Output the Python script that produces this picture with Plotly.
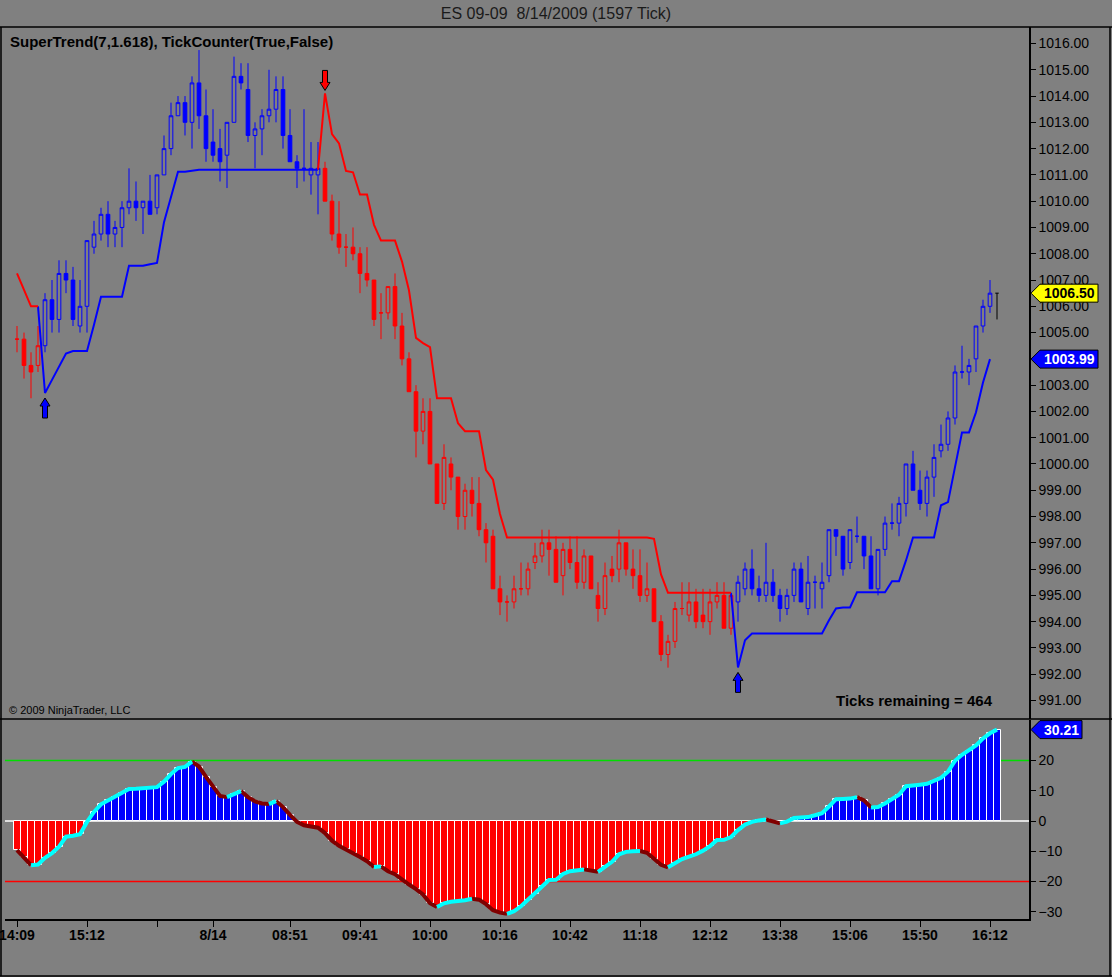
import plotly.graph_objects as go
from plotly.subplots import make_subplots

# ES 09-09 1597-tick bars, 8/13-8/14/2009
opens = [1004.75, 1004.75, 1003.75, 1003.75, 1004.5, 1006.25, 1005.5, 1007.25, 1007.0, 1005.25,
         1006.0, 1008.25, 1008.75, 1009.5, 1008.75, 1009.0, 1009.75, 1010.0, 1009.75, 1010.0,
         1009.75, 1011.0, 1012.0, 1013.25, 1013.75, 1013.0, 1014.5, 1013.25, 1012.25, 1012.0,
         1011.75, 1013.0, 1014.75, 1014.25, 1012.5, 1012.75, 1013.25, 1013.5, 1014.25, 1012.5,
         1011.5, 1011.25, 1011.0, 1011.0, 1011.25, 1010.0, 1008.75, 1008.25, 1008.25, 1008.0,
         1007.25, 1007.0, 1005.75, 1005.75, 1006.75, 1005.25, 1004.0, 1002.75, 1001.25, 1002.0,
         1000.0, 998.5, 1000.0, 999.5, 998.0, 999.0, 998.5, 997.5, 997.25, 995.25,
         994.75, 994.75, 995.25, 995.25, 996.25, 996.5, 997.0, 996.75, 995.75, 996.75,
         996.25, 995.5, 996.5, 995.0, 994.5, 996.0, 996.0, 997.0, 996.0, 995.75,
         995.0, 995.25, 994.0, 992.75, 993.25, 994.5, 994.25, 994.75, 994.25, 994.0,
         994.75, 995.0, 993.75, 994.75, 995.25, 996.0, 995.25, 995.0, 995.5, 995.0,
         994.5, 995.0, 996.0, 994.5, 995.5, 995.25, 995.75, 997.5, 997.25, 996.25,
         997.25, 997.25, 996.5, 995.25, 996.75, 997.75, 997.75, 998.5, 1000.0, 999.0,
         998.5, 999.5, 1000.5, 1000.75, 1001.75, 1003.5, 1003.5, 1004.0, 1005.25, 1006.0,
         1006.5]
highs = [1005.25, 1005.0, 1004.25, 1005.25, 1006.5, 1007.0, 1007.75, 1007.75, 1007.5, 1007.0,
         1008.5, 1009.25, 1009.75, 1010.0, 1009.25, 1010.0, 1011.25, 1010.75, 1010.0, 1011.0,
         1011.0, 1012.5, 1013.75, 1014.0, 1014.0, 1014.75, 1015.75, 1014.25, 1013.5, 1012.75,
         1013.0, 1015.5, 1015.25, 1015.25, 1013.0, 1013.5, 1015.0, 1014.75, 1014.75, 1013.5,
         1011.75, 1013.5, 1012.25, 1012.25, 1011.5, 1010.25, 1010.0, 1008.75, 1009.0, 1008.25,
         1008.25, 1007.0, 1006.5, 1006.75, 1007.25, 1005.75, 1004.25, 1003.0, 1002.5, 1002.5,
         1000.0, 1000.75, 1000.25, 999.5, 999.25, 999.5, 999.5, 997.75, 997.5, 995.75,
         995.0, 995.75, 996.25, 996.25, 997.0, 997.5, 997.5, 997.25, 997.0, 997.25,
         997.25, 996.75, 996.5, 995.5, 996.25, 996.5, 997.5, 997.0, 996.75, 996.75,
         996.25, 995.25, 994.25, 993.5, 994.75, 995.5, 995.5, 995.25, 995.25, 995.25,
         995.5, 995.5, 995.0, 995.75, 996.25, 996.75, 995.75, 997.0, 996.0, 995.25,
         995.25, 996.25, 996.25, 996.5, 995.75, 996.25, 997.5, 997.5, 997.25, 997.5,
         998.0, 997.25, 997.25, 996.75, 998.0, 998.5, 998.75, 1000.0, 1000.5, 999.75,
         999.75, 1000.75, 1001.5, 1002.0, 1003.75, 1004.5, 1004.0, 1005.25, 1006.25, 1007.0,
         1006.5]
lows = [1004.25, 1003.25, 1002.5, 1003.5, 1004.25, 1005.0, 1005.0, 1006.5, 1005.25, 1005.0,
        1005.0, 1008.0, 1008.5, 1008.25, 1008.25, 1008.25, 1009.5, 1009.25, 1008.75, 1009.5,
        1009.5, 1011.0, 1011.75, 1013.25, 1012.5, 1012.0, 1012.75, 1011.5, 1011.5, 1010.75,
        1010.5, 1013.0, 1014.25, 1012.25, 1011.25, 1011.75, 1013.0, 1013.0, 1012.0, 1011.5,
        1010.5, 1010.75, 1010.25, 1009.5, 1010.0, 1008.5, 1008.0, 1007.5, 1007.75, 1006.5,
        1006.75, 1005.25, 1004.75, 1005.5, 1004.75, 1003.75, 1002.75, 1000.25, 1000.75, 1000.0,
        998.5, 998.25, 999.0, 997.5, 997.5, 998.0, 997.25, 996.25, 995.25, 994.25,
        994.0, 994.5, 995.0, 995.0, 996.0, 996.25, 995.75, 995.5, 995.0, 996.0,
        995.25, 995.25, 995.25, 994.0, 994.25, 995.5, 995.5, 995.75, 995.25, 994.75,
        994.75, 994.0, 992.5, 992.25, 993.0, 994.25, 994.0, 993.75, 993.75, 993.5,
        994.5, 993.75, 993.5, 994.0, 995.0, 995.0, 994.75, 994.75, 994.75, 994.0,
        994.25, 994.75, 994.75, 994.25, 994.5, 994.5, 995.5, 996.5, 995.75, 996.0,
        997.0, 996.0, 995.25, 995.0, 996.5, 997.5, 997.25, 998.0, 999.0, 998.25,
        998.0, 998.75, 1000.25, 1000.5, 1001.5, 1003.25, 1003.0, 1003.5, 1005.0, 1005.75,
        1005.5]
closes = [1004.75, 1003.75, 1003.5, 1004.5, 1006.25, 1005.5, 1007.25, 1007.0, 1005.5, 1006.0,
          1008.5, 1008.75, 1009.5, 1008.75, 1009.0, 1009.75, 1010.0, 1009.75, 1010.0, 1009.5,
          1011.0, 1012.0, 1013.25, 1013.75, 1013.0, 1014.5, 1013.25, 1012.0, 1011.75, 1011.5,
          1013.0, 1014.75, 1014.5, 1012.5, 1012.75, 1013.25, 1013.5, 1014.25, 1012.5, 1011.5,
          1011.25, 1011.25, 1011.25, 1011.25, 1010.0, 1008.75, 1008.25, 1008.25, 1008.0, 1007.25,
          1007.0, 1005.5, 1005.75, 1006.75, 1005.25, 1004.0, 1002.75, 1001.25, 1002.0, 1000.0,
          998.5, 1000.25, 999.5, 998.0, 999.0, 998.5, 997.5, 997.0, 995.25, 994.75,
          994.75, 995.25, 995.25, 996.0, 996.5, 997.0, 996.75, 995.5, 996.75, 996.25,
          995.5, 996.5, 995.25, 994.5, 995.75, 995.75, 997.0, 996.0, 995.75, 995.0,
          995.25, 994.0, 992.75, 993.25, 994.5, 994.5, 994.75, 994.0, 994.0, 994.75,
          995.0, 993.75, 995.0, 995.5, 996.0, 995.25, 995.0, 995.5, 995.0, 994.5,
          995.0, 996.0, 994.75, 995.5, 995.5, 995.5, 997.5, 997.25, 996.0, 997.5,
          997.25, 996.5, 995.25, 996.75, 997.75, 997.75, 998.5, 1000.0, 999.0, 998.5,
          999.5, 1000.25, 1000.75, 1001.75, 1003.5, 1003.5, 1003.75, 1005.25, 1006.0, 1006.5,
          1006.5]
# SuperTrend(7,1.618); the live bar has no value yet
supertrend = [1007.25, 1006.6, 1006.0, 1006.0, 1002.7, 1003.2, 1003.7, 1004.2, 1004.3, 1004.3,
              1004.3, 1005.3, 1006.36, 1006.36, 1006.36, 1006.36, 1007.54, 1007.54, 1007.54, 1007.6,
              1007.65, 1009.2, 1010.17, 1011.12, 1011.12, 1011.15, 1011.2, 1011.2, 1011.2, 1011.2,
              1011.2, 1011.2, 1011.2, 1011.2, 1011.2, 1011.2, 1011.2, 1011.2, 1011.2, 1011.2,
              1011.2, 1011.2, 1011.2, 1011.2, 1014.1, 1012.55, 1012.2, 1011.15, 1011.1, 1010.25,
              1010.25, 1009.1, 1008.5, 1008.5, 1008.5, 1007.7, 1006.6, 1004.8, 1004.6, 1004.45,
              1002.5, 1002.5, 1002.5, 1001.55, 1001.25, 1001.25, 1001.25, 999.77, 999.4, 998.1,
              997.2, 997.2, 997.2, 997.2, 997.2, 997.2, 997.2, 997.2, 997.2, 997.2,
              997.2, 997.2, 997.2, 997.2, 997.2, 997.2, 997.2, 997.2, 997.2, 997.2,
              997.2, 997.15, 995.8, 995.1, 995.1, 995.1, 995.1, 995.1, 995.1, 995.1,
              995.1, 995.1, 995.1, 992.26, 993.29, 993.55, 993.55, 993.55, 993.55, 993.55,
              993.55, 993.55, 993.55, 993.55, 993.55, 993.55, 994.05, 994.5, 994.54, 994.54,
              995.12, 995.12, 995.12, 995.12, 995.12, 995.54, 995.54, 996.33, 997.2, 997.2,
              997.2, 997.2, 998.43, 998.55, 999.88, 1001.2, 1001.2, 1001.97, 1003.1, 1003.99,
              None]
# lower panel oscillator
osc = [-9.6, -12.0, -14.6, -14.4, -12.2, -10.6, -8.5, -5.2, -4.9, -4.4,
       -0.3, 3.0, 5.5, 6.8, 7.8, 9.2, 10.6, 10.7, 10.8, 10.9,
       11.2, 13.0, 15.5, 17.5, 17.9, 19.6, 18.0, 14.6, 11.2, 8.3,
       7.9, 9.0, 9.9, 7.9, 6.5, 5.8, 5.6, 6.6, 4.6, 2.0,
       -0.3, -1.4, -1.8, -2.2, -4.0, -6.5, -8.2, -9.4, -10.5, -11.9,
       -13.3, -15.2, -15.0, -16.6, -17.6, -19.5, -21.0, -22.5, -24.3, -27.2,
       -28.4, -27.2, -26.7, -26.6, -26.2, -25.7, -26.0, -27.5, -29.5, -30.3,
       -30.7, -29.8, -28.2, -26.0, -24.0, -21.6, -19.5, -19.4, -17.5, -16.6,
       -16.2, -16.0, -16.4, -16.8, -15.0, -13.5, -11.0, -10.2, -10.0, -9.9,
       -10.5, -12.5, -14.5, -15.3, -13.8, -12.6, -11.8, -11.0, -9.8, -8.3,
       -6.3, -6.2, -5.3, -3.0, -1.2, -0.3, 0.2, 0.5, 0.0, -0.8,
       -0.2, 1.0, 1.1, 1.3, 1.9, 2.6, 4.8, 7.2, 7.3, 7.4,
       7.9, 6.8, 4.5, 4.6, 5.8, 7.2, 8.7, 11.5, 11.9, 12.0,
       12.3, 13.2, 14.3, 16.3, 19.9, 21.9, 23.3, 25.0, 27.3, 29.0,
       30.21]
tick_bars = [0, 10, 20, 28, 39, 49, 59, 69, 79, 89, 99, 109, 119, 129, 139]
tick_text = ["14:09", "15:12", "", "8/14", "08:51", "09:41", "10:00", "10:16",
             "10:42", "11:18", "12:12", "13:38", "15:06", "15:50", "16:12"]
levels = [20, 0, -20]

BLUE = "#0000FF"
RED = "#FF0000"
GRAY = "#808080"
FONT = "Liberation Sans, Arial, sans-serif"

n = len(closes)
bars = list(range(n))
up = [st is not None and c > st for c, st in zip(closes, supertrend)]


def px(x):  # window pixel -> paper x
    return (x - 5) / 1024


def py(y):  # window pixel -> paper y
    return (919 - y) / 892


fig = make_subplots(rows=2, cols=1, shared_xaxes=True, vertical_spacing=0)


def candles(sel, color):
    return go.Candlestick(
        x=[bars[i] for i in sel],
        open=[opens[i] for i in sel], high=[highs[i] for i in sel],
        low=[lows[i] for i in sel], close=[closes[i] for i in sel],
        increasing=dict(line=dict(color=color, width=1), fillcolor="rgba(0,0,0,0)"),
        decreasing=dict(line=dict(color=color, width=1), fillcolor=color),
        whiskerwidth=0, hoverinfo="skip", showlegend=False)


blue_sel = [i for i in bars if supertrend[i] is not None and up[i]]
red_sel = [i for i in bars if supertrend[i] is not None and not up[i]]
live_sel = [i for i in bars if supertrend[i] is None]
fig.add_trace(candles(blue_sel, BLUE), row=1, col=1)
fig.add_trace(candles(red_sel, RED), row=1, col=1)
fig.add_trace(go.Ohlc(
    x=[bars[i] for i in live_sel], open=[opens[i] for i in live_sel],
    high=[highs[i] for i in live_sel], low=[lows[i] for i in live_sel],
    close=[closes[i] for i in live_sel], tickwidth=0.25,
    increasing=dict(line=dict(color="black", width=1)),
    decreasing=dict(line=dict(color="black", width=1)),
    hoverinfo="skip", showlegend=False), row=1, col=1)


def trend_line(flag):
    xs, ys = [], []
    for i in bars:
        if supertrend[i] is None or up[i] != flag:
            continue
        if i > 0 and up[i - 1] != flag and supertrend[i - 1] is not None:
            if xs:
                xs.append(None)
                ys.append(None)
            xs.append(i - 1)
            ys.append(supertrend[i - 1])
        xs.append(i)
        ys.append(supertrend[i])
    return xs, ys


for flag, color in [(True, BLUE), (False, RED)]:
    xs, ys = trend_line(flag)
    fig.add_trace(go.Scatter(x=xs, y=ys, mode="lines", line=dict(color=color, width=2),
                             hoverinfo="skip", showlegend=False), row=1, col=1)

# oscillator histogram + direction-coloured line
fig.add_trace(go.Bar(x=bars, y=osc,
                     marker=dict(color=[BLUE if v > 0 else RED for v in osc],
                                 line=dict(color="white", width=1)),
                     hoverinfo="skip", showlegend=False), row=2, col=1)


def osc_line(rising):
    xs, ys = [], []
    for i in range(1, n):
        if (osc[i] > osc[i - 1]) != rising:
            continue
        if not xs or xs[-1] != i - 1:
            if xs:
                xs.append(None)
                ys.append(None)
            xs.append(i - 1)
            ys.append(osc[i - 1])
        xs.append(i)
        ys.append(osc[i])
    return xs, ys


for rising, color in [(False, "#800000"), (True, "#00FFFF")]:
    xs, ys = osc_line(rising)
    fig.add_trace(go.Scatter(x=xs, y=ys, mode="lines", line=dict(color=color, width=4),
                             hoverinfo="skip", showlegend=False), row=2, col=1)

shapes = []
# trend change arrows
for i in bars[1:]:
    if supertrend[i] is None or supertrend[i - 1] is None or up[i] == up[i - 1]:
        continue
    if up[i]:
        path = "M 0,-5 L 5,-13 L 2.5,-13 L 2.5,-25 L -2.5,-25 L -2.5,-13 L -5,-13 Z"
        fill = BLUE
    else:
        path = "M 0,3 L 5,11 L 2.5,11 L 2.5,23 L -2.5,23 L -2.5,11 L -5,11 Z"
        fill = RED
    shapes.append(dict(type="path", xref="x", yref="y", xsizemode="pixel", ysizemode="pixel",
                       xanchor=i, yanchor=supertrend[i], path=path, fillcolor=fill,
                       line=dict(color="black", width=1)))

# level lines in the lower panel
level_colors = {20: "#00DD00", 0: "white", -20: "#FF0000"}
for lv in levels:
    shapes.append(dict(type="line", xref="paper", yref="y2", x0=0, x1=1, y0=lv, y1=lv,
                       line=dict(color=level_colors[lv], width=1.3),
                       layer="below"))

# frame lines
frame = dict(color="black", width=1.5)
shapes += [
    dict(type="line", xref="paper", yref="paper", x0=px(0), x1=px(1112), y0=py(27), y1=py(27), line=frame),
    dict(type="line", xref="paper", yref="paper", x0=px(0), x1=px(1112), y0=py(719), y1=py(719), line=frame),
    dict(type="line", xref="paper", yref="paper", x0=px(0), x1=px(1112), y0=py(976), y1=py(976), line=frame),
    dict(type="line", xref="paper", yref="paper", x0=px(1), x1=px(1), y0=py(27), y1=py(976), line=frame),
    dict(type="line", xref="paper", yref="paper", x0=px(1110), x1=px(1110), y0=py(27), y1=py(976), line=frame),
]

# price markers on the right axis
markers = [
    ("y", closes[-1], "#FFFF00", "black", 69),
    ("y", [v for v in supertrend if v is not None][-1], BLUE, "white", 69),
    ("y2", osc[-1], BLUE, "white", 53),
]
annotations = []
for yref, val, fill, txt, w in markers:
    shapes.append(dict(type="path", xref="paper", yref=yref, xsizemode="pixel", ysizemode="pixel",
                       xanchor=1, yanchor=val,
                       path=f"M 2,0 L 11,9 L {w},9 L {w},-9 L 11,-9 Z",
                       fillcolor=fill, line=dict(color="black", width=1)))
    annotations.append(dict(xref="paper", yref=yref, x=1, y=val, xanchor="center", yanchor="middle",
                            xshift=(11 + w) / 2, text=f"{val:.2f}", showarrow=False,
                            font=dict(family=FONT, size=14, color=txt, weight="bold")))

annotations += [
    dict(xref="paper", yref="paper", x=px(8), y=py(41), xanchor="left", yanchor="middle",
         text="SuperTrend(7,1.618), TickCounter(True,False)", showarrow=False,
         font=dict(family=FONT, size=15, color="black", weight="bold")),
    dict(xref="paper", yref="paper", x=px(7), y=py(710), xanchor="left", yanchor="middle",
         text="© 2009 NinjaTrader, LLC", showarrow=False,
         font=dict(family=FONT, size=11, color="black")),
    dict(xref="paper", yref="paper", x=px(995), y=py(700), xanchor="right", yanchor="middle",
         text="Ticks remaining = 464", showarrow=False,
         font=dict(family=FONT, size=15, color="black", weight="bold")),
]

x_range = [-12 / 7, (1029 - 17) / 7]
fig.update_layout(
    width=1112, height=977,
    margin=dict(l=5, r=83, t=27, b=58, autoexpand=False),
    paper_bgcolor=GRAY, plot_bgcolor=GRAY,
    font=dict(family=FONT, size=14, color="black"),
    title=dict(text="ES 09-09&nbsp; 8/14/2009 (1597 Tick)", x=0.5, xanchor="center",
               y=1 - 13 / 977, yanchor="middle", font=dict(family=FONT, size=16, color="#1a1a1a")),
    showlegend=False, bargap=0, boxgap=0.25,
    shapes=shapes, annotations=annotations,
    xaxis=dict(range=x_range, showticklabels=False, ticks="", showgrid=False, zeroline=False,
               rangeslider=dict(visible=False), showline=False, automargin=False),
    xaxis2=dict(range=x_range, tickvals=tick_bars, ticktext=tick_text, ticks="outside",
                ticklen=6, tickcolor="black", showgrid=False, zeroline=False,
                showline=True, linecolor="black", linewidth=1.5, ticklabelstandoff=-4,
                ticklabeloverflow="allow", rangeslider=dict(visible=False), automargin=False,
                tickfont=dict(family=FONT, size=14, color="black", weight="bold")),
    yaxis=dict(domain=[py(719), 1], side="right", range=[991 - 18.5 / 26.28, 1016 + 16.5 / 26.28],
               dtick=1, tick0=991, tickformat=".2f", ticks="outside", ticklen=5,
               tickcolor="black", showgrid=False, zeroline=False, automargin=False,
               showline=True, linecolor="black", linewidth=1.5,
               tickfont=dict(family=FONT, size=14, color="black")),
    yaxis2=dict(domain=[0, py(720)], side="right", range=[-98 / 3.025, 101 / 3.025],
                tickvals=[-30, -20, -10, 0, 10, 20], ticks="outside", ticklen=5,
                tickcolor="black", showgrid=False, zeroline=False, automargin=False,
                showline=True, linecolor="black", linewidth=1.5,
                tickfont=dict(family=FONT, size=14, color="black")),
)

fig.write_html("out.html", config={"displayModeBar": False},
               post_script="document.body.style.margin='0';document.body.style.background='#808080';")
